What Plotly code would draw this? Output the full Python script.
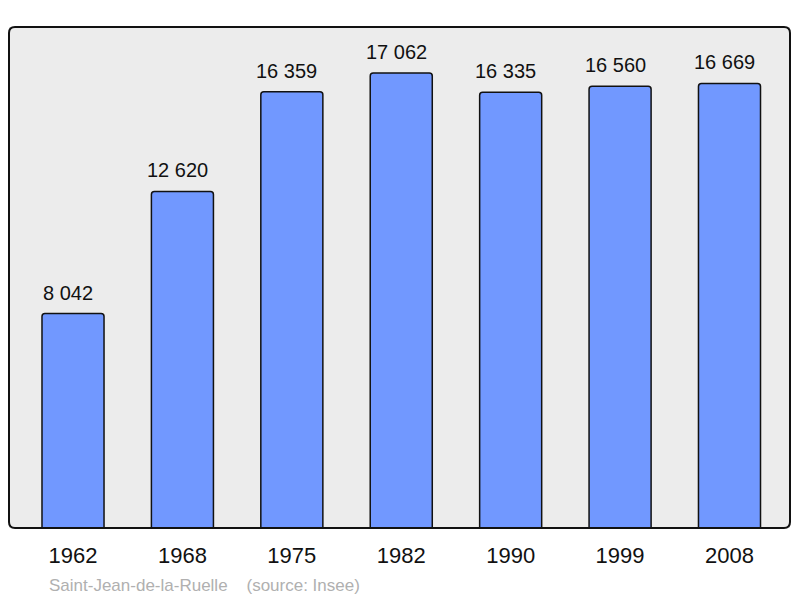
import plotly.graph_objects as go

years = ["1962", "1968", "1975", "1982", "1990", "1999", "2008"]
population = [8042, 12620, 16359, 17062, 16335, 16560, 16669]
labels = ["8 042", "12 620", "16 359", "17 062", "16 335", "16 560", "16 669"]
source_text = "Saint-Jean-de-la-Ruelle    (source: Insee)"

xs = list(range(len(years)))

fig = go.Figure()
fig.add_trace(go.Bar(
    x=xs, y=population, width=0.567,
    marker=dict(color="#7198ff", line=dict(color="#111111", width=1.5)),
    hoverinfo="skip",
))

for x, v, t in zip(xs, population, labels):
    fig.add_annotation(x=x, y=v, text=t, showarrow=False, yanchor="bottom",
                       yshift=8, xshift=-5, font=dict(size=20, color="#111111"))

fig.add_annotation(xref="paper", yref="paper", x=(47 - 9) / 781, y=(528 - 585) / 501,
                   xanchor="left", yanchor="middle",
                   text=source_text.replace("    ", "&nbsp;&nbsp;&nbsp;&nbsp;"),
                   showarrow=False, font=dict(size=17, color="#b0b0b0"))

# rounded frame
W, H = 781.0, 501.0
r = 6.0
rx, ry = r / W, r / H
path = (f"M {rx},0 L {1-rx},0 Q 1,0 1,{ry} L 1,{1-ry} Q 1,1 {1-rx},1 "
        f"L {rx},1 Q 0,1 0,{1-ry} L 0,{ry} Q 0,0 {rx},0 Z")
fig.add_shape(type="path", path=path, xref="paper", yref="paper",
              line=dict(color="#111111", width=2), layer="above")

fig.update_layout(
    width=800, height=598,
    margin=dict(l=9, r=10, t=27, b=70),
    paper_bgcolor="white", plot_bgcolor="#ececec",
    barcornerradius=3,
    showlegend=False,
    font=dict(family="Liberation Sans, Arial, sans-serif"),
    xaxis=dict(range=[-0.585, 6.553], tickvals=xs, ticktext=years,
               showgrid=False, zeroline=False, ticks="", ticklabelstandoff=12,
               tickfont=dict(size=22, color="#111111"), fixedrange=True),
    yaxis=dict(range=[0, 18785], showgrid=False, zeroline=False,
               showticklabels=False, ticks="", fixedrange=True),
)

fig.write_html("out.html", config={"displayModeBar": False},
               post_script="document.body.style.margin='0px';document.body.style.overflow='hidden';")
